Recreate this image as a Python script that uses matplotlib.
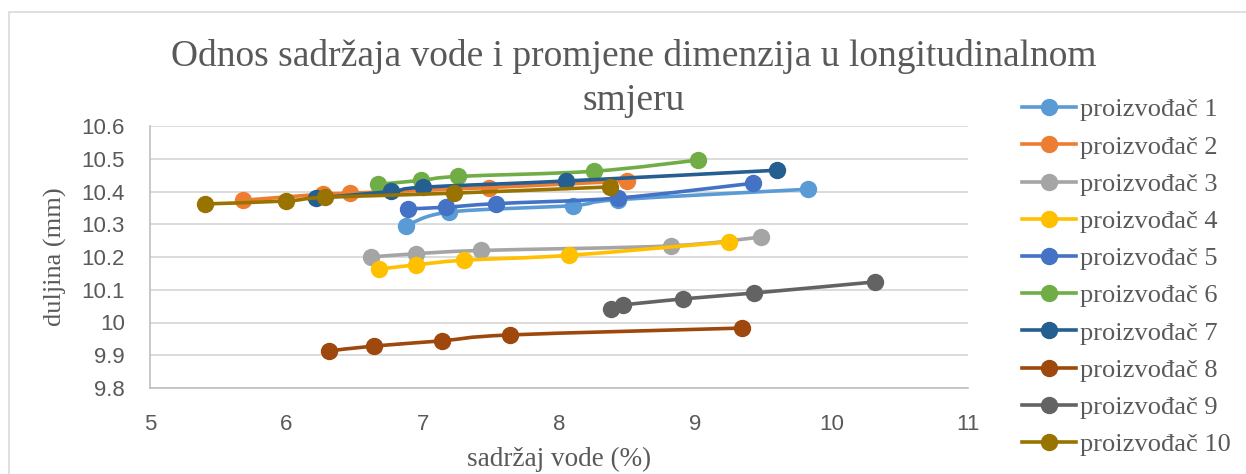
import numpy as np
import matplotlib
matplotlib.use('Agg')
import matplotlib.pyplot as plt
from matplotlib.path import Path
from matplotlib.patches import PathPatch, Rectangle
from matplotlib.lines import Line2D

# data: water content (%) vs length (mm)
names = ['proizvođač %d' % i for i in range(1, 11)]

x1 = [6.88, 7.19, 8.10, 8.43, 9.83]
y1 = [10.295, 10.337, 10.357, 10.375, 10.407]
x2 = [5.68, 6.27, 6.47, 7.49, 8.50]
y2 = [10.373, 10.392, 10.395, 10.412, 10.432]
x3 = [6.62, 6.95, 7.43, 8.82, 9.48]
y3 = [10.200, 10.210, 10.220, 10.234, 10.261]
x4 = [6.68, 6.95, 7.30, 8.07, 9.25]
y4 = [10.163, 10.176, 10.190, 10.205, 10.246]
x5 = [6.89, 7.17, 7.54, 8.43, 9.42]
y5 = [10.347, 10.352, 10.363, 10.380, 10.425]
x6 = [6.67, 6.99, 7.26, 8.26, 9.02]
y6 = [10.422, 10.434, 10.446, 10.462, 10.496]
x7 = [6.22, 6.77, 7.00, 8.05, 9.60]
y7 = [10.380, 10.400, 10.413, 10.432, 10.465]
x8 = [6.31, 6.64, 7.14, 7.64, 9.34]
y8 = [9.913, 9.928, 9.944, 9.962, 9.983]
x9 = [8.38, 8.47, 8.91, 9.43, 10.32]
y9 = [10.040, 10.053, 10.072, 10.090, 10.124]
x10 = [5.40, 6.00, 6.28, 7.23, 8.375]
y10 = [10.362, 10.371, 10.382, 10.395, 10.414]

xs = [x1, x2, x3, x4, x5, x6, x7, x8, x9, x10]
ys = [y1, y2, y3, y4, y5, y6, y7, y8, y9, y10]
colors = ['#5B9BD5', '#ED7D31', '#A5A5A5', '#FFC000', '#4472C4',
          '#70AD47', '#255E91', '#9E480E', '#636363', '#997300']


def smooth_path(x, y):
    # Excel style smoothed line: cubic bezier through the points
    x = np.asarray(x, float)
    y = np.asarray(y, float)
    verts = [(x[0], y[0])]
    codes = [Path.MOVETO]
    n = len(x)
    for i in range(n - 1):
        x0, y0 = (x[i - 1], y[i - 1]) if i > 0 else (x[i], y[i])
        x3_, y3_ = (x[i + 2], y[i + 2]) if i + 2 < n else (x[i + 1], y[i + 1])
        c1 = (x[i] + (x[i + 1] - x0) / 6, y[i] + (y[i + 1] - y0) / 6)
        c2 = (x[i + 1] - (x3_ - x[i]) / 6, y[i + 1] - (y3_ - y[i]) / 6)
        verts += [c1, c2, (x[i + 1], y[i + 1])]
        codes += [Path.CURVE4] * 3
    return Path(verts, codes)


plt.rcParams['font.family'] = ['Liberation Sans', 'DejaVu Sans']
fig = plt.figure(figsize=(12.46, 4.74), dpi=100)
ax = fig.add_axes([150 / 1246, 86 / 474, 818 / 1246, 262 / 474])

for i in range(10):
    patch = PathPatch(smooth_path(xs[i], ys[i]), facecolor='none',
                      edgecolor=colors[i], lw=2.6, zorder=3 + i * 0.1,
                      capstyle='round', joinstyle='round')
    ax.add_patch(patch)
    ax.plot(xs[i], ys[i], ls='none', marker='o', ms=11.5,
            color=colors[i], zorder=3 + i * 0.1 + 0.05)

ax.set_xlim(5, 11)
ax.set_ylim(9.8, 10.6)
ax.set_xticks(np.arange(5, 12, 1))
ax.set_yticks(np.arange(9.8, 10.61, 0.1))
ax.set_yticklabels(['9.8', '9.9', '10', '10.1', '10.2', '10.3', '10.4', '10.5', '10.6'])
ax.grid(axis='y', color='#D9D9D9', lw=1.3)
ax.set_axisbelow(True)
for s in ['top', 'right']:
    ax.spines[s].set_visible(False)
for s in ['left', 'bottom']:
    ax.spines[s].set_color('#BFBFBF')
    ax.spines[s].set_linewidth(1.2)
ax.tick_params(length=0, labelsize=16, colors='#595959')
ax.tick_params(axis='y', pad=18)
ax.tick_params(axis='x', pad=19)

serif = ['Liberation Serif', 'DejaVu Serif']
ax.set_xlabel('sadržaj vode (%)', family=serif, fontsize=19.5, color='#595959')
ax.xaxis.set_label_coords(0.5, -0.225)
ax.set_ylabel('duljina (mm)', family=serif, fontsize=19, color='#595959')
ax.yaxis.set_label_coords(-0.1015, 0.5)

fig.text(634 / 1246, 1 - 56 / 474, 'Odnos sadržaja vode i promjene dimenzija u longitudinalnom',
         family=serif, fontsize=27, color='#595959', ha='center', va='center')
fig.text(634 / 1246, 1 - 101 / 474, 'smjeru',
         family=serif, fontsize=27, color='#595959', ha='center', va='center')

handles = [Line2D([], [], color=c, lw=2.6, marker='o', ms=11.5) for c in colors]
fig.legend(handles, names, loc='upper left', bbox_to_anchor=(1022 / 1246, 1 - 98 / 474),
           frameon=False, prop={'family': serif, 'size': 19}, labelcolor='#595959',
           handlelength=2.05, handletextpad=0.15, labelspacing=0.52, borderpad=0,
           borderaxespad=0)

fig.patches.append(Rectangle((9 / 1246, -0.2), 1.2, 1.2 - 12 / 474, transform=fig.transFigure,
                             fill=False, edgecolor='#D9D9D9', lw=1.2))

fig.savefig('out.png', dpi=100)
